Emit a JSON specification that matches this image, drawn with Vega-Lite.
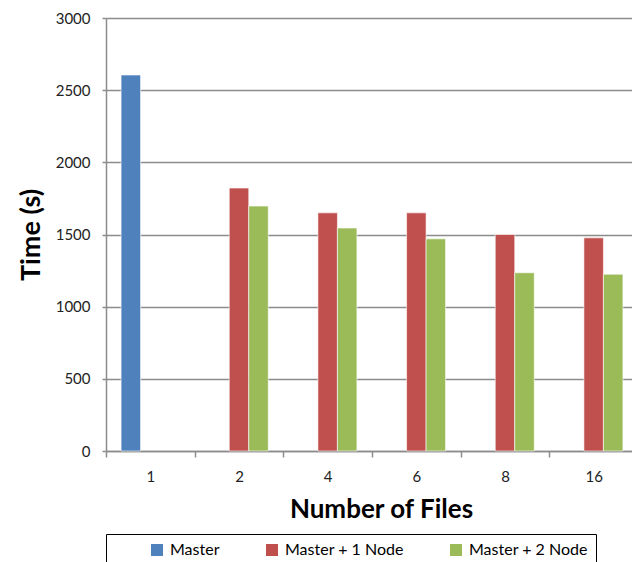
{
  "$schema": "https://vega.github.io/schema/vega-lite/v6.json",
  "width": 532,
  "height": 433,
  "autosize": {"type": "none"},
  "padding": {"left": 106, "top": 18, "right": 0, "bottom": 111},
  "background": "white",
  "config": {
    "view": {"stroke": null},
    "font": "Lato"
  },
  "data": {
    "values": [
      {"files": "1", "series": "Master", "time": 2605},
      {"files": "2", "series": "Master + 1 Node", "time": 1822},
      {"files": "2", "series": "Master + 2 Node", "time": 1697},
      {"files": "4", "series": "Master + 1 Node", "time": 1650},
      {"files": "4", "series": "Master + 2 Node", "time": 1545},
      {"files": "6", "series": "Master + 1 Node", "time": 1650},
      {"files": "6", "series": "Master + 2 Node", "time": 1470},
      {"files": "8", "series": "Master + 1 Node", "time": 1500},
      {"files": "8", "series": "Master + 2 Node", "time": 1235},
      {"files": "16", "series": "Master + 1 Node", "time": 1477},
      {"files": "16", "series": "Master + 2 Node", "time": 1225}
    ]
  },
  "mark": {"type": "bar", "stroke": "white", "strokeOpacity": 0.6, "strokeWidth": 1},
  "encoding": {
    "x": {
      "field": "files",
      "type": "ordinal",
      "sort": ["1", "2", "4", "6", "8", "16"],
      "scale": {"paddingInner": 0, "paddingOuter": 0},
      "axis": {
        "title": "Number of Files",
        "titleFont": "Lato",
        "titleFontSize": 26,
        "titleFontWeight": "bold",
        "titleColor": "black",
        "titlePadding": 12,
        "titleX": 275,
        "labelAngle": 0,
        "labelFontSize": 15,
        "labelColor": "#222222",
        "labelPadding": 12,
        "tickBand": "extent",
        "tickSize": 6,
        "tickColor": "#8c8c8c",
        "tickWidth": 1.5,
        "domainColor": "#8c8c8c",
        "domainWidth": 1.5,
        "grid": false
      }
    },
    "xOffset": {
      "field": "series",
      "scale": {"domain": ["Master", "Master + 1 Node", "Master + 2 Node"], "paddingInner": 0, "paddingOuter": 0.773}
    },
    "y": {
      "field": "time",
      "type": "quantitative",
      "scale": {"domain": [0, 3000], "nice": false},
      "axis": {
        "title": "Time (s)",
        "titleFont": "Lato",
        "titleFontSize": 27,
        "titleFontWeight": "bold",
        "titleColor": "black",
        "titlePadding": 10,
        "values": [0, 500, 1000, 1500, 2000, 2500, 3000],
        "format": "d",
        "labelFontSize": 15,
        "labelColor": "#222222",
        "labelPadding": 12,
        "tickSize": 4,
        "tickColor": "#8c8c8c",
        "tickWidth": 1.5,
        "domainColor": "#8c8c8c",
        "domainWidth": 1.5,
        "gridColor": "#8c8c8c",
        "gridWidth": 1.5
      }
    },
    "color": {
      "field": "series",
      "type": "nominal",
      "scale": {"domain": ["Master", "Master + 1 Node", "Master + 2 Node"], "range": ["#4F81BD", "#C0504D", "#9BBB59"]},
      "legend": {
        "title": " ",
        "titleOrient": "left",
        "titleFontSize": 16,
        "titlePadding": 35,
        "orient": "bottom",
        "direction": "horizontal",
        "symbolType": "square",
        "symbolSize": 144,
        "symbolStrokeWidth": 0,
        "labelFontSize": 16,
        "labelColor": "black",
        "labelOffset": 5,
        "columnPadding": 44,
        "strokeColor": "black",
        "padding": 8,
        "offset": 12
      }
    }
  }
}
